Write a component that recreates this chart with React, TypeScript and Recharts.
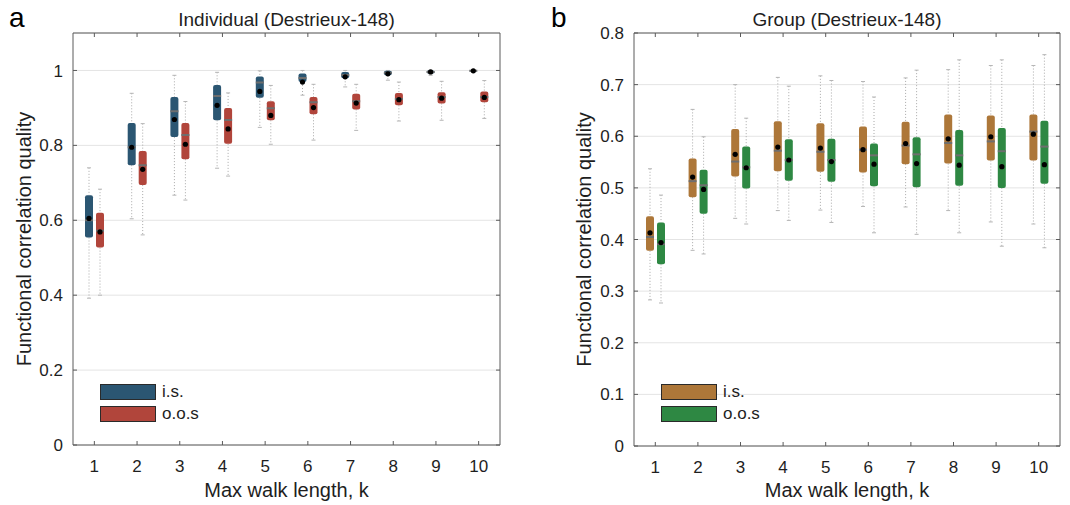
import React from 'react';
import { ComposedChart, Bar, XAxis, YAxis, CartesianGrid, Legend } from 'recharts';

// ---------------- data ----------------
const kValues = [1, 2, 3, 4, 5, 6, 7, 8, 9, 10];

// Panel a — Individual (Destrieux-148), in-sample
const indIsLo = [0.392, 0.604, 0.667, 0.739, 0.848, 0.934, 0.956, 0.974, 0.987, 0.996];
const indIsQ1 = [0.554, 0.747, 0.822, 0.867, 0.927, 0.969, 0.979, 0.987, 0.992, 0.998];
const indIsMed = [0.6, 0.795, 0.891, 0.932, 0.968, 0.98, 0.988, 0.994, 0.996, 0.999];
const indIsQ3 = [0.667, 0.86, 0.929, 0.961, 0.984, 0.992, 0.996, 0.999, 1.0, 1.0];
const indIsHi = [0.74, 0.939, 0.987, 0.995, 0.999, 1.0, 1.0, 1.0, 1.0, 1.0];
const indIsMean = [0.605, 0.795, 0.869, 0.907, 0.944, 0.969, 0.983, 0.991, 0.996, 0.999];

// Panel a — out-of-sample
const indOosLo = [0.4, 0.561, 0.654, 0.718, 0.803, 0.814, 0.84, 0.865, 0.867, 0.872];
const indOosQ1 = [0.527, 0.694, 0.763, 0.804, 0.867, 0.883, 0.896, 0.907, 0.912, 0.915];
const indOosMed = [0.572, 0.747, 0.828, 0.868, 0.899, 0.915, 0.918, 0.924, 0.929, 0.929];
const indOosQ3 = [0.62, 0.785, 0.86, 0.9, 0.918, 0.929, 0.938, 0.94, 0.942, 0.944];
const indOosHi = [0.683, 0.858, 0.917, 0.94, 0.96, 0.963, 0.963, 0.969, 0.971, 0.973];
const indOosMean = [0.569, 0.736, 0.803, 0.844, 0.88, 0.901, 0.913, 0.922, 0.926, 0.928];

// Panel b — Group (Destrieux-148), in-sample
const grpIsLo = [0.283, 0.379, 0.441, 0.456, 0.457, 0.464, 0.463, 0.456, 0.434, 0.43];
const grpIsQ1 = [0.378, 0.482, 0.522, 0.532, 0.531, 0.53, 0.546, 0.547, 0.553, 0.553];
const grpIsMed = [0.405, 0.513, 0.551, 0.572, 0.57, 0.574, 0.582, 0.587, 0.59, 0.609];
const grpIsQ3 = [0.445, 0.557, 0.614, 0.629, 0.625, 0.619, 0.628, 0.642, 0.64, 0.642];
const grpIsHi = [0.537, 0.652, 0.7, 0.714, 0.717, 0.706, 0.713, 0.729, 0.737, 0.737];
const grpIsMean = [0.413, 0.521, 0.565, 0.579, 0.577, 0.574, 0.586, 0.595, 0.599, 0.604];

// Panel b — out-of-sample
const grpOosLo = [0.277, 0.372, 0.43, 0.437, 0.433, 0.413, 0.41, 0.413, 0.387, 0.384];
const grpOosQ1 = [0.352, 0.45, 0.499, 0.514, 0.512, 0.503, 0.501, 0.504, 0.5, 0.508];
const grpOosMed = [0.391, 0.505, 0.54, 0.554, 0.554, 0.563, 0.565, 0.563, 0.571, 0.58];
const grpOosQ3 = [0.433, 0.535, 0.58, 0.594, 0.595, 0.586, 0.598, 0.612, 0.616, 0.63];
const grpOosHi = [0.486, 0.599, 0.635, 0.697, 0.708, 0.676, 0.728, 0.748, 0.748, 0.758];
const grpOosMean = [0.394, 0.497, 0.539, 0.554, 0.551, 0.546, 0.547, 0.544, 0.541, 0.545];

const leftTicks = [0, 0.2, 0.4, 0.6, 0.8, 1];
const rightTicks = [0, 0.1, 0.2, 0.3, 0.4, 0.5, 0.6, 0.7, 0.8];

// ---------------- helpers ----------------
type Stats = { lo: number[]; q1: number[]; med: number[]; q3: number[]; hi: number[]; mean: number[] };

const FONT = '"Liberation Sans", Arial, Helvetica, sans-serif';
const AXIS = '#5a5a5a';
const TEXT = '#1e1e1e';

function buildRows(a: Stats, b: Stats) {
  return kValues.map((k, i) => ({
    k,
    aHi: a.hi[i],
    bHi: b.hi[i],
  }));
}

function makeBoxShape(s: Stats, color: string) {
  return (props: any) => {
    const { x, y, width, height, index } = props;
    const hi = s.hi[index];
    if (!(height > 0) || !hi) return <g />;
    const base = y + height;
    const per = height / hi; // px per unit, taken from the library's bar geometry
    const Y = (v: number) => base - v * per;
    const cx = x + width / 2;
    const top = Y(s.q3[index]);
    const bot = Y(s.q1[index]);
    const cap = 2;
    return (
      <g>
        <line x1={cx} x2={cx} y1={Y(s.hi[index])} y2={top} stroke="#a8a8a8" strokeWidth={1} strokeDasharray="1 2" />
        <line x1={cx} x2={cx} y1={bot} y2={Y(s.lo[index])} stroke="#a8a8a8" strokeWidth={1} strokeDasharray="1 2" />
        <line x1={cx - cap} x2={cx + cap} y1={Y(s.hi[index])} y2={Y(s.hi[index])} stroke="#b5b5b5" strokeWidth={1} />
        <line x1={cx - cap} x2={cx + cap} y1={Y(s.lo[index])} y2={Y(s.lo[index])} stroke="#b5b5b5" strokeWidth={1} />
        <rect x={x} y={top} width={width} height={Math.max(bot - top, 1)} rx={2} ry={2} fill={color} />
        <line x1={x} x2={x + width} y1={Y(s.med[index])} y2={Y(s.med[index])} stroke="#6e6e6e" strokeWidth={2} />
        <circle cx={cx} cy={Y(s.mean[index])} r={2.6} fill="#000" />
      </g>
    );
  };
}

const BottomTick = (props: any) => {
  const { x, y, payload } = props;
  return (
    <g>
      <line x1={x} x2={x} y1={y} y2={y - 4} stroke={AXIS} />
      <text x={x} y={y + 27} textAnchor="middle" fontSize={17} fill={TEXT} fontFamily={FONT}>
        {payload.value}
      </text>
    </g>
  );
};
const TopTick = (props: any) => {
  const { x, y } = props;
  return <line x1={x} x2={x} y1={y} y2={y + 4} stroke={AXIS} />;
};
const LeftTick = (props: any) => {
  const { x, y, payload } = props;
  return (
    <g>
      <line x1={x} x2={x + 4} y1={y} y2={y} stroke={AXIS} />
      <text x={x - 10} y={y} dy="0.36em" textAnchor="end" fontSize={17} fill={TEXT} fontFamily={FONT}>
        {String(payload.value)}
      </text>
    </g>
  );
};
const RightTick = (props: any) => {
  const { x, y } = props;
  return <line x1={x} x2={x - 4} y1={y} y2={y} stroke={AXIS} />;
};

const LegendBox = (props: any) => {
  const payload = props.payload || [];
  return (
    <div style={{ display: 'flex', flexDirection: 'column', gap: 6, fontFamily: FONT }}>
      {payload.map((p: any) => (
        <div key={p.value} style={{ display: 'flex', alignItems: 'center', height: 16 }}>
          <div
            style={{
              width: 56,
              height: 16,
              boxSizing: 'border-box',
              background: p.color,
              border: '1px solid #2a2a2a',
            }}
          />
          <span style={{ marginLeft: 6, fontSize: 17, color: TEXT, lineHeight: '16px' }}>{p.value}</span>
        </div>
      ))}
    </div>
  );
};

type PanelProps = {
  width: number;
  marginRight: number;
  yAxisWidth: number;
  bottomHeight: number;
  domainMax: number;
  ticks: number[];
  title: string;
  letter: string;
  letterX: number;
  yLabelX: number;
  legendLeft: number;
  a: Stats;
  b: Stats;
  colorA: string;
  colorB: string;
};

function Panel(p: PanelProps) {
  const rows = buildRows(p.a, p.b);
  return (
    <ComposedChart
      width={p.width}
      height={505}
      data={rows}
      margin={{ top: 32, right: p.marginRight, left: 0, bottom: 0 }}
      barGap={3}
    >
      <CartesianGrid vertical={false} stroke="#e4e4e4" />
      <XAxis
        dataKey="k"
        type="category"
        height={p.bottomHeight}
        stroke={AXIS}
        tickLine={false}
        tickSize={0}
        tickMargin={0}
        tick={<BottomTick />}
        interval={0}
        label={{
          content: (lp: any) => {
            const vb = lp.viewBox;
            return (
              <text x={vb.x + vb.width / 2} y={497} textAnchor="middle" fontSize={20} fill={TEXT} fontFamily={FONT}>
                Max walk length, k
              </text>
            );
          },
        }}
      />
      <XAxis
        xAxisId="top"
        dataKey="k"
        type="category"
        orientation="top"
        height={1}
        stroke={AXIS}
        tickLine={false}
        tickSize={0}
        tickMargin={0}
        tick={<TopTick />}
        interval={0}
        label={{
          content: (lp: any) => {
            const vb = lp.viewBox;
            return (
              <g>
                <text x={vb.x + vb.width / 2} y={26} textAnchor="middle" fontSize={19} fill={TEXT} fontFamily={FONT}>
                  {p.title}
                </text>
                <text x={p.letterX} y={27} fontSize={28} fill="#000" fontFamily={FONT}>
                  {p.letter}
                </text>
              </g>
            );
          },
        }}
      />
      <YAxis
        type="number"
        domain={[0, p.domainMax]}
        ticks={p.ticks}
        allowDataOverflow
        width={p.yAxisWidth}
        stroke={AXIS}
        tickLine={false}
        tickSize={0}
        tickMargin={0}
        tick={<LeftTick />}
        interval={0}
        label={{
          content: (lp: any) => {
            const vb = lp.viewBox;
            const cy = vb.y + vb.height / 2;
            return (
              <text
                x={p.yLabelX}
                y={cy}
                transform={`rotate(-90, ${p.yLabelX}, ${cy})`}
                textAnchor="middle"
                fontSize={20}
                fill={TEXT}
                fontFamily={FONT}
              >
                Functional correlation quality
              </text>
            );
          },
        }}
      />
      <YAxis
        yAxisId="right"
        orientation="right"
        type="number"
        domain={[0, p.domainMax]}
        ticks={p.ticks}
        allowDataOverflow
        width={1}
        stroke={AXIS}
        tickLine={false}
        tickSize={0}
        tickMargin={0}
        tick={<RightTick />}
        interval={0}
      />
      <Legend
        layout="vertical"
        align="center"
        verticalAlign="middle"
        content={<LegendBox />}
        wrapperStyle={{ left: p.legendLeft, top: 384, width: 'auto', height: 'auto' }}
      />
      <Bar
        dataKey="aHi"
        name="i.s."
        fill={p.colorA}
        barSize={8}
        isAnimationActive={false}
        legendType="rect"
        shape={makeBoxShape(p.a, p.colorA)}
      />
      <Bar
        dataKey="bHi"
        name="o.o.s"
        fill={p.colorB}
        barSize={8}
        isAnimationActive={false}
        legendType="rect"
        shape={makeBoxShape(p.b, p.colorB)}
      />
    </ComposedChart>
  );
}

export default function App() {
  const indIs: Stats = { lo: indIsLo, q1: indIsQ1, med: indIsMed, q3: indIsQ3, hi: indIsHi, mean: indIsMean };
  const indOos: Stats = { lo: indOosLo, q1: indOosQ1, med: indOosMed, q3: indOosQ3, hi: indOosHi, mean: indOosMean };
  const grpIs: Stats = { lo: grpIsLo, q1: grpIsQ1, med: grpIsMed, q3: grpIsQ3, hi: grpIsHi, mean: grpIsMean };
  const grpOos: Stats = { lo: grpOosLo, q1: grpOosQ1, med: grpOosMed, q3: grpOosQ3, hi: grpOosHi, mean: grpOosMean };
  return (
    <div
      style={{
        position: 'absolute',
        left: 0,
        top: 0,
        width: 1070,
        height: 505,
        background: '#fff',
        fontFamily: FONT,
      }}
    >
      <div style={{ position: 'absolute', left: 0, top: 0 }}>
        <Panel
          width={520}
          marginRight={19}
          yAxisWidth={73}
          bottomHeight={60}
          domainMax={1.1}
          ticks={leftTicks}
          title="Individual (Destrieux-148)"
          letter="a"
          letterX={9}
          yLabelX={31}
          legendLeft={100}
          a={indIs}
          b={indOos}
          colorA="#2b5672"
          colorB="#b1453b"
        />
      </div>
      <div style={{ position: 'absolute', left: 540, top: 0 }}>
        <Panel
          width={530}
          marginRight={9}
          yAxisWidth={94}
          bottomHeight={59}
          domainMax={0.8}
          ticks={rightTicks}
          title="Group (Destrieux-148)"
          letter="b"
          letterX={11}
          yLabelX={51}
          legendLeft={121}
          a={grpIs}
          b={grpOos}
          colorA="#ad7739"
          colorB="#2e8843"
        />
      </div>
    </div>
  );
}
